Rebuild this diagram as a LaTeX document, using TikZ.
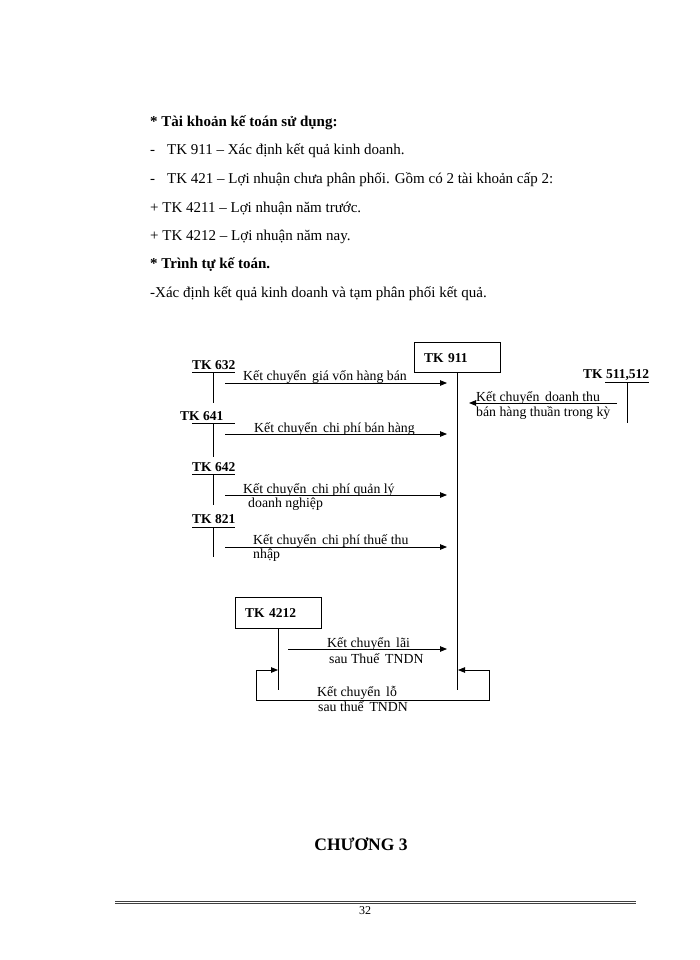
\documentclass[tikz,border=0pt]{standalone}
\usepackage{fontspec}
\setmainfont{Liberation Serif}
\usetikzlibrary{arrows.meta,calc}
\begin{document}
\begin{tikzpicture}[x=1pt,y=-1pt,
  body/.style={anchor=base west,inner sep=0pt,font=\fontsize{15}{18}\selectfont},
  lbl/.style={anchor=base west,inner sep=0pt,font=\fontsize{13.8}{14}\selectfont},
  tk/.style={anchor=base west,inner sep=0pt,font=\fontsize{13.5}{14}\selectfont\bfseries},
  tkbox/.style={draw,line width=0.8pt,minimum height=30pt,text width=66pt,inner xsep=10pt,inner ysep=0pt,text height=11pt,text depth=1pt,align=left,font=\fontsize{13.5}{14}\selectfont\bfseries},
  tline/.style={line width=0.8pt},
  arr/.style={line width=0.8pt,-{Triangle[length=7pt,width=5.5pt]}},
  darr/.style={line width=0.8pt,{Triangle[length=7pt,width=5.5pt]}-{Triangle[length=7pt,width=5.5pt]}}
]
\useasboundingbox (0,0) rectangle (700,960);
\fill[white] (0,0) rectangle (700,960);

% body text
\node[body,font=\fontsize{15}{18}\selectfont\bfseries] (h1) at (150,127) {* Tài khoản kế toán sử dụng:};
\node[body] (l1) at (150,155) {-\hspace{12pt}TK 911 – Xác định kết quả kinh doanh.};
\node[body] (l2) at (150,183) {-\hspace{12pt}TK 421 – Lợi nhuận chưa phân phối. Gồm có 2 tài khoản cấp 2:};
\node[body] (l3) at (150,212) {+ TK 4211 – Lợi nhuận năm trước.};
\node[body] (l4) at (150,240) {+ TK 4212 – Lợi nhuận năm nay.};
\node[body,font=\fontsize{15}{18}\selectfont\bfseries] (h2) at (150,268) {* Trình tự kế toán.};
\node[body] (l5) at (150,297) {-Xác định kết quả kinh doanh và tạm phân phối kết quả.};

% TK 911
\node[tkbox] (tk911) at (457,357) {TK 911};
\coordinate (e911) at (457,690);
\draw[tline] (tk911.south) -- (e911);

% T accounts on the left
\node[tk] (t632) at (192,369) {TK 632};
\coordinate (a632) at (192,372); \coordinate (b632) at (235,372);
\coordinate (v632) at (213,403);
\draw[tline] (a632) -- (b632) (a632 -| v632) -- (v632);

\node[tk] (t641) at (180,420) {TK 641};
\coordinate (a641) at (192,423); \coordinate (b641) at (235,423);
\coordinate (v641) at (213,457);
\draw[tline] (a641) -- (b641) (a641 -| v641) -- (v641);

\node[tk] (t642) at (192,471) {TK 642};
\coordinate (a642) at (192,474); \coordinate (b642) at (235,474);
\coordinate (v642) at (213,505);
\draw[tline] (a642) -- (b642) (a642 -| v642) -- (v642);

\node[tk] (t821) at (192,523) {TK 821};
\coordinate (a821) at (192,527); \coordinate (b821) at (235,527);
\coordinate (v821) at (213,557);
\draw[tline] (a821) -- (b821) (a821 -| v821) -- (v821);

% TK 511,512
\node[tk] (t511) at (583,378) {TK 511,512};
\coordinate (a511) at (605,382); \coordinate (b511) at (649,382);
\coordinate (v511) at (627,423);
\draw[tline] (a511) -- (b511) (a511 -| v511) -- (v511);

% arrows into 911
\coordinate (s1) at (225,383); \coordinate (d1) at (447,383);
\draw[arr] (s1) -- (d1);
\node[lbl] (k1) at (243,380) {Kết chuyển\, giá vốn hàng bán};

\coordinate (s2) at (225,434); \coordinate (d2) at (447,434);
\draw[arr] (s2) -- (d2);
\node[lbl] (k2) at (254,432) {Kết chuyển\, chi phí bán hàng};

\coordinate (s3) at (225,495); \coordinate (d3) at (447,495);
\draw[arr] (s3) -- (d3);
\node[lbl] (k3) at (243,493) {Kết chuyển\, chi phí quản lý};
\node[lbl] (k3b) at (248,507) {doanh nghiệp};

\coordinate (s4) at (225,547); \coordinate (d4) at (447,547);
\draw[arr] (s4) -- (d4);
\node[lbl] (k4) at (253,544) {Kết chuyển\, chi phí thuế thu};
\node[lbl] (k4b) at (253,558) {nhập};

\coordinate (s5) at (617,403); \coordinate (d5) at (469,403);
\draw[arr] (s5) -- (d5);
\node[lbl] (k5) at (476,401) {Kết chuyển\, doanh thu};
\node[lbl] (k5b) at (476,416) {bán hàng thuần trong kỳ};

% TK 4212
\node[tkbox,minimum height=31pt] (tk4212) at (278,612.5) {TK 4212};
\coordinate (e4212) at (278,690);
\draw[tline] (tk4212.south) -- (e4212);

\coordinate (s6) at (288,649); \coordinate (d6) at (447,649);
\draw[arr] (s6) -- (d6);
\node[lbl] (k6) at (327,647) {Kết chuyển\, lãi};
\node[lbl] (k6b) at (329,663) {sau Thuế\, TNDN};

\coordinate (in4212) at (278,670);
\coordinate (in911) at (458,670);
\coordinate (lossR) at (489,670);
\draw[darr] (in4212) -- ++(-22,0) -- ++(0,30) -| (lossR) -- (in911);
\node[lbl] (k7) at (317,696) {Kết chuyển\, lỗ};
\node[lbl] (k7b) at (318,711) {sau thuế\, TNDN};

% chapter title
\node[inner sep=0pt,font=\fontsize{17.5}{20}\selectfont\bfseries] (ch) at (361,844) {CHƯƠNG 3};

% footer
\coordinate (f1) at (115,901); \coordinate (f2) at (636,901);
\draw[line width=0.9pt,gray!50!black] (f1) -- (f2);
\draw[line width=0.9pt,gray!50!black] ($(f1)+(0,2.5)$) -- ($(f2)+(0,2.5)$);
\node[inner sep=0pt,font=\fontsize{12}{14}\selectfont] (pg) at (365,911) {32};
\end{tikzpicture}
\end{document}
